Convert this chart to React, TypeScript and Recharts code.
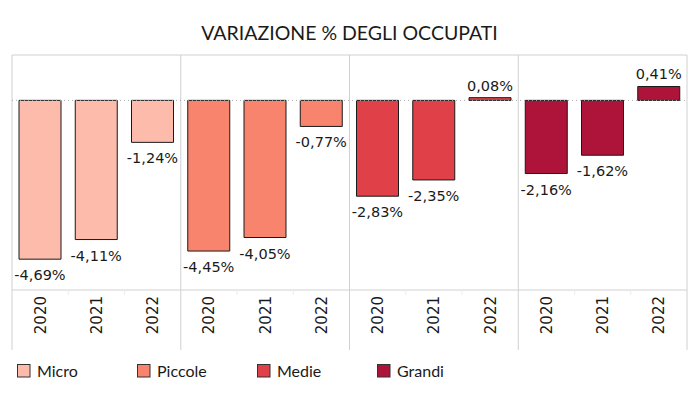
import { BarChart, Bar, XAxis, YAxis, CartesianGrid, ReferenceLine, Legend } from "recharts";

const YEARS = ["2020", "2021", "2022"];
const GROUPS = ["Micro", "Piccole", "Medie", "Grandi"];
const MICRO = [-4.69, -4.11, -1.24];
const PICCOLE = [-4.45, -4.05, -0.77];
const MEDIE = [-2.83, -2.35, 0.08];
const GRANDI = [-2.16, -1.62, 0.41];

const VALUES: Record<string, number[]> = { Micro: MICRO, Piccole: PICCOLE, Medie: MEDIE, Grandi: GRANDI };
const COLORS: Record<string, string> = { Micro: "#FCBBAB", Piccole: "#F8846D", Medie: "#E04148", Grandi: "#AE1439" };

// one row per year per group, only that group's key is filled
const rows = GROUPS.flatMap((g) =>
  YEARS.map((y, i) => ({ id: `${g}-${y}`, year: y, [g]: VALUES[g][i] }))
);

const LABEL_FONT = "'DejaVu Sans', Verdana, sans-serif";
const GRID = "#d0d0d0";

const fmt = (v: number) => v.toFixed(2).replace(".", ",") + "%";

function ValueLabel(props: any) {
  const { x, y, width, height, value } = props;
  if (value === undefined || value === null) return null;
  const v = Array.isArray(value) ? value[1] - value[0] : Number(value);
  if (!isFinite(v)) return null;
  const top = Math.min(y, y + height);
  const bottom = Math.max(y, y + height);
  const cx = x + width / 2;
  return (
    <text x={cx} y={v < 0 ? bottom + 21 : top - 7} textAnchor="middle" fontFamily={LABEL_FONT} fontSize={14.5} fill="#1a1a1a">
      {fmt(v)}
    </text>
  );
}

function YearTick(props: any) {
  const { x, y, payload, index } = props;
  const half = payload && typeof payload.offset === "number" && payload.offset > 0 ? payload.offset : 28.125;
  const row = rows[index] || rows.find((r) => r.id === payload.value);
  const left = x - half;
  return (
    <g>
      {index % 3 === 0 ? (
        <line x1={left} x2={left} y1={y - 6} y2={y + 54} stroke={GRID} />
      ) : (
        <line x1={left} x2={left} y1={y - 6} y2={y - 1} stroke="#ececec" />
      )}
      {index === rows.length - 1 && <line x1={x + half} x2={x + half} y1={y - 6} y2={y + 54} stroke={GRID} />}
      <text
        x={x + 5.4}
        y={y}
        transform={`rotate(-90, ${x + 5.4}, ${y})`}
        textAnchor="end"
        fontFamily={LABEL_FONT}
        fontSize={15}
        fill="#1a1a1a"
      >
        {row ? row.year : ""}
      </text>
    </g>
  );
}

function LegendBox(props: any) {
  const items = ([...(props.payload || [])] as any[]).sort(
    (a, b) => GROUPS.indexOf(a.value) - GROUPS.indexOf(b.value)
  );
  return (
    <div style={{ display: "flex" }}>
      {items.map((it) => (
        <div key={it.value} style={{ width: 120, display: "flex", alignItems: "center" }}>
          <svg width={14} height={14} style={{ marginRight: 6 }}>
            <rect x={0.5} y={0.5} width={12.5} height={12.5} fill={COLORS[it.value]} stroke="#333" />
          </svg>
          <span style={{ fontFamily: "Lato, sans-serif", fontSize: 16, color: "#1a1a1a", lineHeight: "18px" }}>{it.value}</span>
        </div>
      ))}
    </div>
  );
}

export default function App() {
  return (
    <div style={{ position: "absolute", left: 0, top: 0, width: 699, height: 399, background: "#fff" }}>
      <div
        style={{
          position: "absolute",
          left: 0,
          top: 21.5,
          width: 699,
          textAlign: "center",
          fontFamily: "Lato, sans-serif",
          fontSize: 19.5,
          lineHeight: "22px",
          color: "#1a1a1a",
        }}
      >
        VARIAZIONE % DEGLI OCCUPATI
      </div>
      <BarChart
        width={699}
        height={399}
        data={rows}
        margin={{ top: 55, left: 12, right: 12, bottom: 49 }}
        stackOffset="sign"
        barSize={42}
      >
        <CartesianGrid
          stroke={GRID}
          horizontalCoordinatesGenerator={({ offset }: any) => [offset.top, offset.top + offset.height]}
          verticalCoordinatesGenerator={({ offset }: any) => [0, 1, 2, 3, 4].map((i) => offset.left + (offset.width * i) / 4)}
        />
        <XAxis dataKey="id" interval={0} tickLine={false} axisLine={false} tickSize={0} tickMargin={6} height={60} tick={<YearTick />} />
        <YAxis hide domain={[-5.6, 1.34]} allowDataOverflow />
        <ReferenceLine y={0} stroke="#aaa" strokeDasharray="1 3" />
        {GROUPS.map((g) => (
          <Bar
            key={g}
            dataKey={g}
            name={g}
            stackId="s"
            fill={COLORS[g]}
            stroke="#1a1a1a"
            strokeWidth={1}
            isAnimationActive={false}
            label={<ValueLabel />}
          />
        ))}
        <Legend
          layout="horizontal"
          verticalAlign="middle"
          align="center"
          wrapperStyle={{ top: 362, left: 17, width: "auto", height: "auto" }}
          content={<LegendBox />}
        />
      </BarChart>
    </div>
  );
}
